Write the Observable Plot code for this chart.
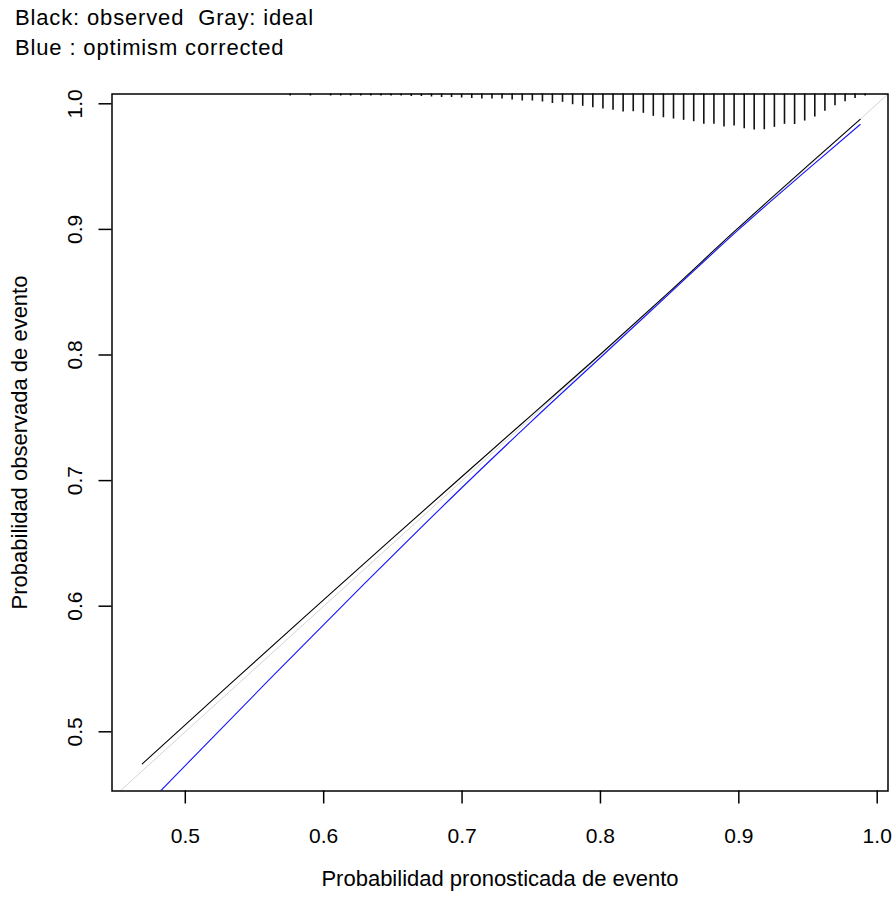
<!DOCTYPE html>
<html>
<head>
<meta charset="utf-8">
<script src="https://cdn.jsdelivr.net/npm/d3@7"></script>
<script src="https://cdn.jsdelivr.net/npm/@observablehq/plot@0.6"></script>
<style>
  body { margin: 0; background: #fff; }
  #fig { position: relative; width: 896px; height: 903px; overflow: hidden;
         font-family: "Liberation Sans", Arial, sans-serif; }
  #title { position: absolute; left: 15px; top: 3px; font-size: 22px; line-height: 30px;
           letter-spacing: 0.85px; color: #000; white-space: pre; z-index: 2; }
  #chart { position: absolute; left: 0; top: 0; z-index: 1; }
</style>
</head>
<body>
<div id="fig">
  <div id="title">Black: observed  Gray: ideal
Blue : optimism corrected</div>
  <div id="chart"></div>
</div>
<script>
// Axis ticks and titles
const xTicks = [0.5, 0.6, 0.7, 0.8, 0.9, 1.0];
const yTicks = [0.5, 0.6, 0.7, 0.8, 0.9, 1.0];
const xTitle = "Probabilidad pronosticada de evento";
const yTitle = "Probabilidad observada de evento";

// Distribution of predicted probabilities (bin centre, relative frequency)
const binX = [0.5758, 0.5831, 0.5904, 0.5977, 0.6050, 0.6123, 0.6195, 0.6268, 0.6341, 0.6414,
              0.6487, 0.6560, 0.6633, 0.6706, 0.6779, 0.6852, 0.6924, 0.6997, 0.7070, 0.7143,
              0.7216, 0.7289, 0.7362, 0.7435, 0.7508, 0.7581, 0.7653, 0.7726, 0.7799, 0.7872,
              0.7945, 0.8018, 0.8091, 0.8164, 0.8237, 0.8310, 0.8382, 0.8455, 0.8528, 0.8601,
              0.8674, 0.8747, 0.8820, 0.8893, 0.8966, 0.9039, 0.9111, 0.9184, 0.9257, 0.9330,
              0.9403, 0.9476, 0.9549, 0.9622, 0.9695, 0.9768, 0.9840, 0.9913];
const binFreq = [2, 0, 2, 0, 2, 2, 2, 2, 2, 2,
                 2, 2, 2.5, 2.5, 3, 3.5, 3.5, 4, 4.5, 5,
                 5, 5, 6, 7, 7, 8, 9.5, 8.3, 10.7, 12.3,
                 13.7, 15, 16.3, 18, 17.7, 19.3, 22.3, 23.7, 25, 26.3,
                 27.7, 30.3, 30.3, 33, 32, 34.7, 36, 35.7, 33.3, 30.3,
                 30.5, 27, 23, 17.3, 11.8, 7.8, 4.4, 2];

// Ideal calibration (identity)
const idealP = [0.40, 1.05];

// Apparent (observed) calibration curve
const obsX = [0.4689, 0.5351, 0.5963, 0.6500, 0.6967, 0.7500, 0.8000, 0.8500, 0.8974, 0.9500, 0.9877];
const obsY = [0.4745, 0.5408, 0.6014, 0.6544, 0.7001, 0.7520, 0.8006, 0.8505, 0.8990, 0.9510, 0.9877];

// Optimism-corrected calibration curve
const corX = [0.4700, 0.4821, 0.5601, 0.6300, 0.7000, 0.7500, 0.8000, 0.8500, 0.9000, 0.9500, 0.9877];
const corY = [0.4392, 0.4529, 0.5409, 0.6185, 0.6945, 0.7470, 0.7980, 0.8490, 0.9000, 0.9480, 0.9835];

const bins = binX.map((x, i) => ({x, freq: binFreq[i]}));
const ideal = idealP.map(p => ({x: p, y: p}));
const observed = obsX.map((x, i) => ({x, y: obsY[i]}));
const corrected = corX.map((x, i) => ({x, y: corY[i]}));

const xDomain = [0.44703, 1.0078];
const yDomain = [0.45287, 1.0078];
const yTop = yDomain[1];
const spikeMax = 0.0287;
const maxFreq = d3.max(binFreq);
const fmt = d => d.toFixed(1);

const chart = Plot.plot({
  width: 896,
  height: 903,
  marginLeft: 111.5,
  marginRight: 8.5,
  marginTop: 93.5,
  marginBottom: 112.5,
  style: {background: "transparent", fontFamily: "'Liberation Sans', Arial, sans-serif", fontSize: "21px", color: "#000"},
  x: {domain: xDomain},
  y: {domain: yDomain},
  marks: [
    Plot.ruleX(bins.filter(d => d.freq > 0), {
      x: "x", y1: yTop, y2: d => yTop - d.freq / maxFreq * spikeMax,
      stroke: "#111", strokeWidth: 1.6
    }),
    Plot.line(ideal, {x: "x", y: "y", stroke: "#d4d4d4", strokeWidth: 1, clip: true}),
    Plot.line(observed, {x: "x", y: "y", stroke: "#000", strokeWidth: 1.1, curve: "monotone-x", clip: true}),
    Plot.line(corrected, {x: "x", y: "y", stroke: "#1515ff", strokeWidth: 1.1, curve: "monotone-x", clip: true}),
    Plot.frame({stroke: "#000", strokeWidth: 1.5}),
    Plot.axisX({ticks: xTicks, tickFormat: fmt, tickSize: 13, tickPadding: 24, label: null, strokeWidth: 1.5}),
    Plot.axisY({ticks: yTicks, tickFormat: fmt, tickSize: 13, tickRotate: -90, tickPadding: 17, label: null, strokeWidth: 1.5}),
    Plot.text([xTitle], {text: d => d, frameAnchor: "bottom", dy: 94.5, fontSize: 22, letterSpacing: 0.1}),
    Plot.text([yTitle], {text: d => d, frameAnchor: "left", textAnchor: "middle", rotate: -90, dx: -92, fontSize: 22, letterSpacing: 0.4})
  ]
});

document.getElementById("chart").appendChild(chart);
</script>
</body>
</html>
